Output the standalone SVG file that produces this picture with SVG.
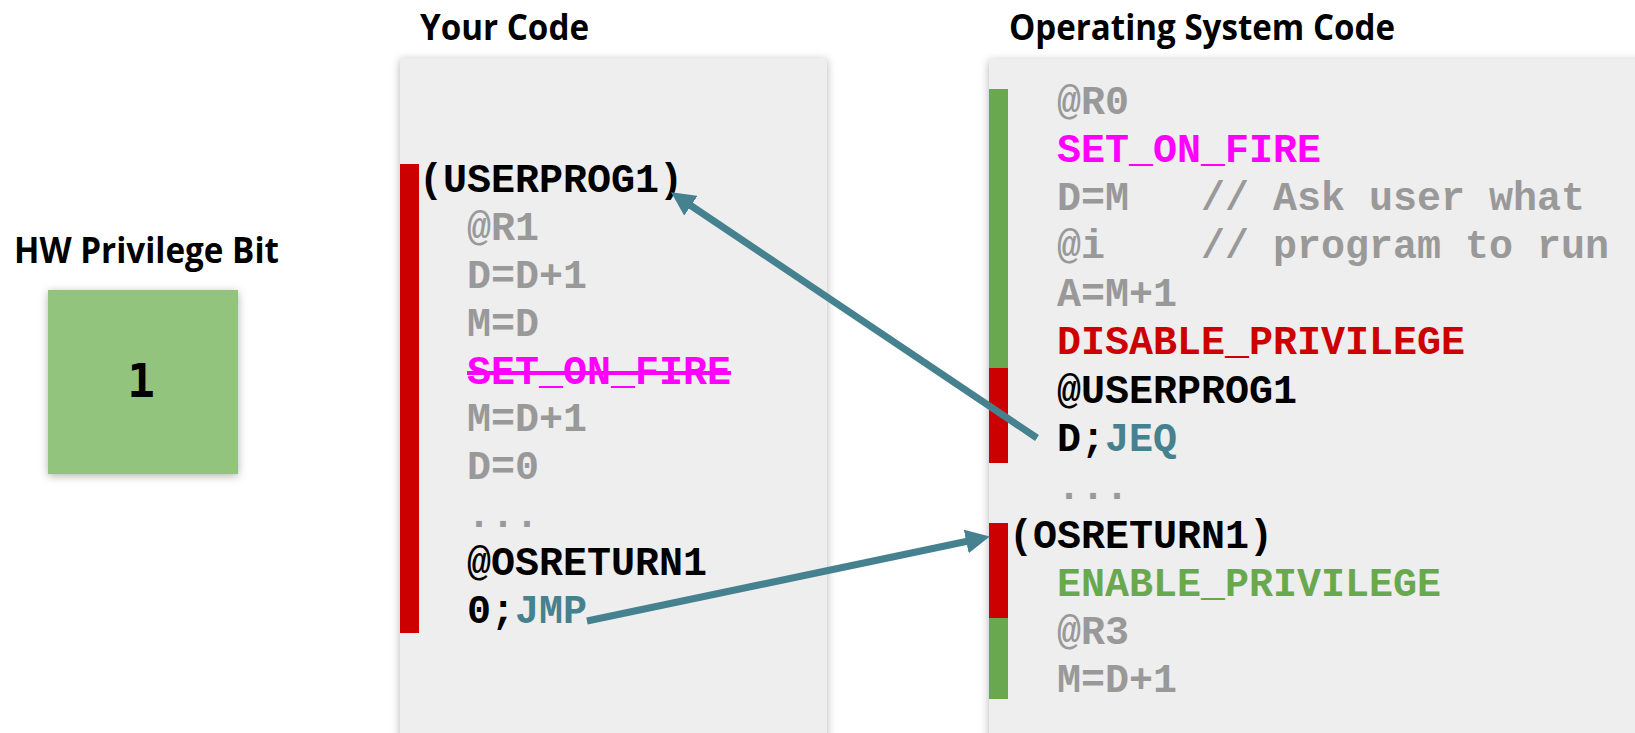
<svg xmlns="http://www.w3.org/2000/svg" width="1635" height="733" viewBox="0 0 1635 733">
<defs>
<style>
.title{font-family:"Open Sans","Liberation Sans",sans-serif;font-weight:700;font-size:35px;fill:#000}
.code{font-family:"Liberation Mono","Courier New",monospace;font-weight:700;font-size:40px;white-space:pre}
.g{fill:#999999}.k{fill:#000}.m{fill:#ff00ff}.r{fill:#cc0000}.gr{fill:#6aa84f}.t{fill:#45818e}
.panel{fill:#eeeeee}
.conn{stroke:#45818e;stroke-width:7;fill:none}
</style>
<filter id="sh" x="-10%" y="-10%" width="120%" height="120%">
<feDropShadow dx="0" dy="2" stdDeviation="4" flood-color="#000" flood-opacity="0.3"/>
</filter>
<marker id="ah" viewBox="0 0 24 24" refX="12" refY="12" markerWidth="24" markerHeight="24" markerUnits="userSpaceOnUse" orient="auto">
<path d="M0,0 L24,12 L0,24 z" fill="#45818e"/>
</marker>
</defs>
<rect width="1635" height="733" fill="#ffffff"/>

<g id="hw-privilege">
<text class="title" x="14" y="263" textLength="265" lengthAdjust="spacingAndGlyphs">HW Privilege Bit</text>
<rect x="48" y="290" width="190" height="184" fill="#93c47d" filter="url(#sh)"/>
<text x="141" y="397" text-anchor="middle" font-family="DejaVu Sans Mono,monospace" font-weight="700" font-size="46">1</text>
</g>

<g id="your-code">
<text class="title" x="420" y="40" textLength="169" lengthAdjust="spacingAndGlyphs">Your Code</text>
<rect class="panel" x="400" y="58" width="427" height="720" filter="url(#sh)"/>
<rect x="400" y="164" width="19" height="469" fill="#cc0000"/>
<text class="code k" x="419" y="192">(USERPROG1)</text>
<text class="code g" x="467" y="240">@R1</text>
<text class="code g" x="467" y="288">D=D+1</text>
<text class="code g" x="467" y="336">M=D</text>
<text class="code m" x="467" y="384" text-decoration="line-through">SET_ON_FIRE</text>
<text class="code g" x="467" y="431">M=D+1</text>
<text class="code g" x="467" y="479">D=0</text>
<text class="code g" x="467" y="527">...</text>
<text class="code k" x="467" y="575">@OSRETURN1</text>
<text class="code k" x="467" y="623">0;<tspan class="t">JMP</tspan></text>
</g>

<g id="os-code">
<text class="title" x="1009" y="40" textLength="386" lengthAdjust="spacingAndGlyphs">Operating System Code</text>
<rect class="panel" x="989" y="59" width="700" height="720" filter="url(#sh)"/>
<rect x="989" y="89" width="19" height="279" fill="#6aa84f"/>
<rect x="989" y="368" width="19" height="95" fill="#cc0000"/>
<rect x="989" y="523" width="19" height="95" fill="#cc0000"/>
<rect x="989" y="618" width="19" height="81" fill="#6aa84f"/>
<text class="code g" x="1057" y="114">@R0</text>
<text class="code m" x="1057" y="162">SET_ON_FIRE</text>
<text class="code g" x="1057" y="210" xml:space="preserve">D=M   // Ask user what</text>
<text class="code g" x="1057" y="258" xml:space="preserve">@i    // program to run</text>
<text class="code g" x="1057" y="306">A=M+1</text>
<text class="code r" x="1057" y="354">DISABLE_PRIVILEGE</text>
<text class="code k" x="1057" y="403">@USERPROG1</text>
<text class="code k" x="1057" y="451">D;<tspan class="t">JEQ</tspan></text>
<text class="code g" x="1057" y="499">...</text>
<text class="code k" x="1009" y="548">(OSRETURN1)</text>
<text class="code gr" x="1057" y="596">ENABLE_PRIVILEGE</text>
<text class="code g" x="1057" y="644">@R3</text>
<text class="code g" x="1057" y="692">M=D+1</text>
</g>

<g id="connectors">
<line class="conn" x1="1037" y1="438" x2="681" y2="199" marker-end="url(#ah)"/>
<line class="conn" x1="587" y1="621" x2="978" y2="539" marker-end="url(#ah)"/>
</g>
</svg>
